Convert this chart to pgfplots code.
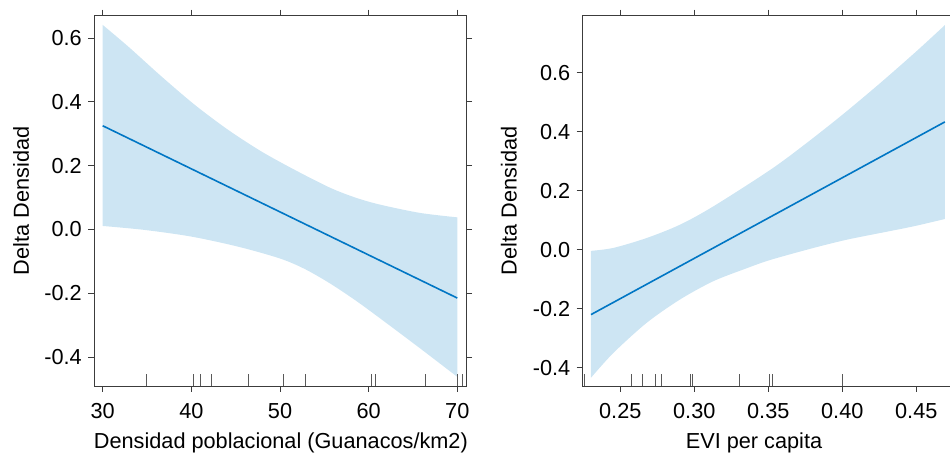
\documentclass[border=0pt]{standalone}
\usepackage{fontspec}
\setmainfont{Liberation Sans}
\usepackage{pgfplots}
\pgfplotsset{compat=1.18}
\usepgfplotslibrary{fillbetween}

\definecolor{bandfill}{RGB}{205,229,243}
\definecolor{fitline}{RGB}{0,118,196}
\definecolor{framec}{RGB}{60,60,60}

\pgfplotsset{
  effstyle/.style={
    scale only axis, anchor=south west,
    font=\fontsize{21.7bp}{26bp}\selectfont,
    axis line style={framec, line width=0.9bp},
    tick style={framec, line width=0.9bp},
    major tick length=6bp,
    tick align=outside,
    xtick pos=both, ytick pos=both,
    xticklabel pos=lower, yticklabel pos=left,
    xticklabel style={inner sep=0pt, anchor=north},
    yticklabel style={inner sep=0pt, anchor=east},
    xticklabel shift=11.3bp,
    yticklabel shift=6.3bp,
    every axis y label/.style={rotate=90, anchor=center},
    every axis x label/.style={anchor=base},
  },
  rug/.style={only marks, mark=|, mark size=6bp,
    mark options={black!65, line width=0.9bp}},
  bandedge/.style={draw=none, smooth, no markers},
}

\begin{document}
\begin{tikzpicture}
% left panel
\begin{axis}[effstyle,
  at={(94.3bp,70bp)}, width=371.7bp, height=370.3bp,
  xmin=29.05, xmax=70.98, ymin=-0.4906, ymax=0.670,
  xtick={30,40,50,60,70},
  xticklabels={30,40,50,60,70},
  ytick={-0.4,-0.2,0,0.2,0.4,0.6},
  yticklabels={-0.4,-0.2,0.0,0.2,0.4,0.6},
  xlabel={Densidad poblacional (Guanacos/km2)},
  ylabel={Delta Densidad},
  xlabel style={at={(axis description cs:0.502,-0.168)}},
  ylabel style={at={(axis description cs:-0.197,0.5)}},
]
\addplot[bandedge, name path=up1] coordinates {
  (30,0.641) (32.89,0.573) (36.65,0.479) (40.41,0.390) (44.16,0.312)
  (47.93,0.244) (51.68,0.1865) (55.63,0.131) (58.5,0.100) (61.26,0.078)
  (65.77,0.052) (70,0.038)
};
\addplot[bandedge, name path=lo1] coordinates {
  (30,0.011) (34.77,-0.0016) (40.03,-0.0225) (45.29,-0.054) (50,-0.091)
  (52.8,-0.124) (55.63,-0.169) (58.5,-0.222) (61.26,-0.278)
  (65.77,-0.372) (70,-0.462)
};
\addplot[fill=bandfill, draw=none] fill between[of=up1 and lo1];
\addplot[fitline, line width=1.6bp] coordinates {(30,0.325) (70,-0.215)};
\addplot[rug] coordinates {
  (34.96,-0.4718) (40.21,-0.4718) (41.05,-0.4718) (42.32,-0.4718)
  (46.46,-0.4718) (50.36,-0.4718) (52.89,-0.4718) (60.33,-0.4718)
  (60.81,-0.4718) (66.37,-0.4718) (69.98,-0.4718) (70.59,-0.4718)
};
\end{axis}

% right panel
\begin{axis}[effstyle,
  at={(582.7bp,70bp)}, width=368.8bp, height=370.3bp,
  xmin=0.2246, xmax=0.4738, ymin=-0.462, ymax=0.793,
  xtick={0.25,0.30,0.35,0.40,0.45},
  xticklabels={0.25,0.30,0.35,0.40,0.45},
  ytick={-0.4,-0.2,0,0.2,0.4,0.6},
  yticklabels={-0.4,-0.2,0.0,0.2,0.4,0.6},
  xlabel={EVI per capita},
  ylabel={Delta Densidad},
  xlabel style={at={(axis description cs:0.4645,-0.168)}},
  ylabel style={at={(axis description cs:-0.2,0.5)}},
]
\addplot[bandedge, name path=up2] coordinates {
  (0.2302,-0.004) (0.2453,0.006) (0.2678,0.0395) (0.2903,0.0846)
  (0.3128,0.1466) (0.3512,0.270) (0.375,0.358) (0.40,0.457)
  (0.425,0.562) (0.45,0.672) (0.4693,0.761)
};
\addplot[bandedge, name path=lo2] coordinates {
  (0.2302,-0.434) (0.2453,-0.350) (0.2678,-0.248) (0.2903,-0.169)
  (0.3128,-0.107) (0.3354,-0.063) (0.3512,-0.035) (0.3804,0.0057)
  (0.403,0.0338) (0.4255,0.0564) (0.448,0.079) (0.4693,0.104)
};
\addplot[fill=bandfill, draw=none] fill between[of=up2 and lo2];
\addplot[fitline, line width=1.6bp] coordinates {(0.2302,-0.220) (0.4693,0.433)};
\addplot[rug] coordinates {
  (0.2261,-0.4417) (0.2572,-0.4417) (0.2651,-0.4417) (0.2739,-0.4417)
  (0.2780,-0.4417) (0.2971,-0.4417) (0.2989,-0.4417) (0.3304,-0.4417)
  (0.3505,-0.4417) (0.3525,-0.4417) (0.4000,-0.4417)
};
\end{axis}

\pgfresetboundingbox
\path[use as bounding box] (0,0) rectangle (950bp,456bp);
\end{tikzpicture}
\end{document}
